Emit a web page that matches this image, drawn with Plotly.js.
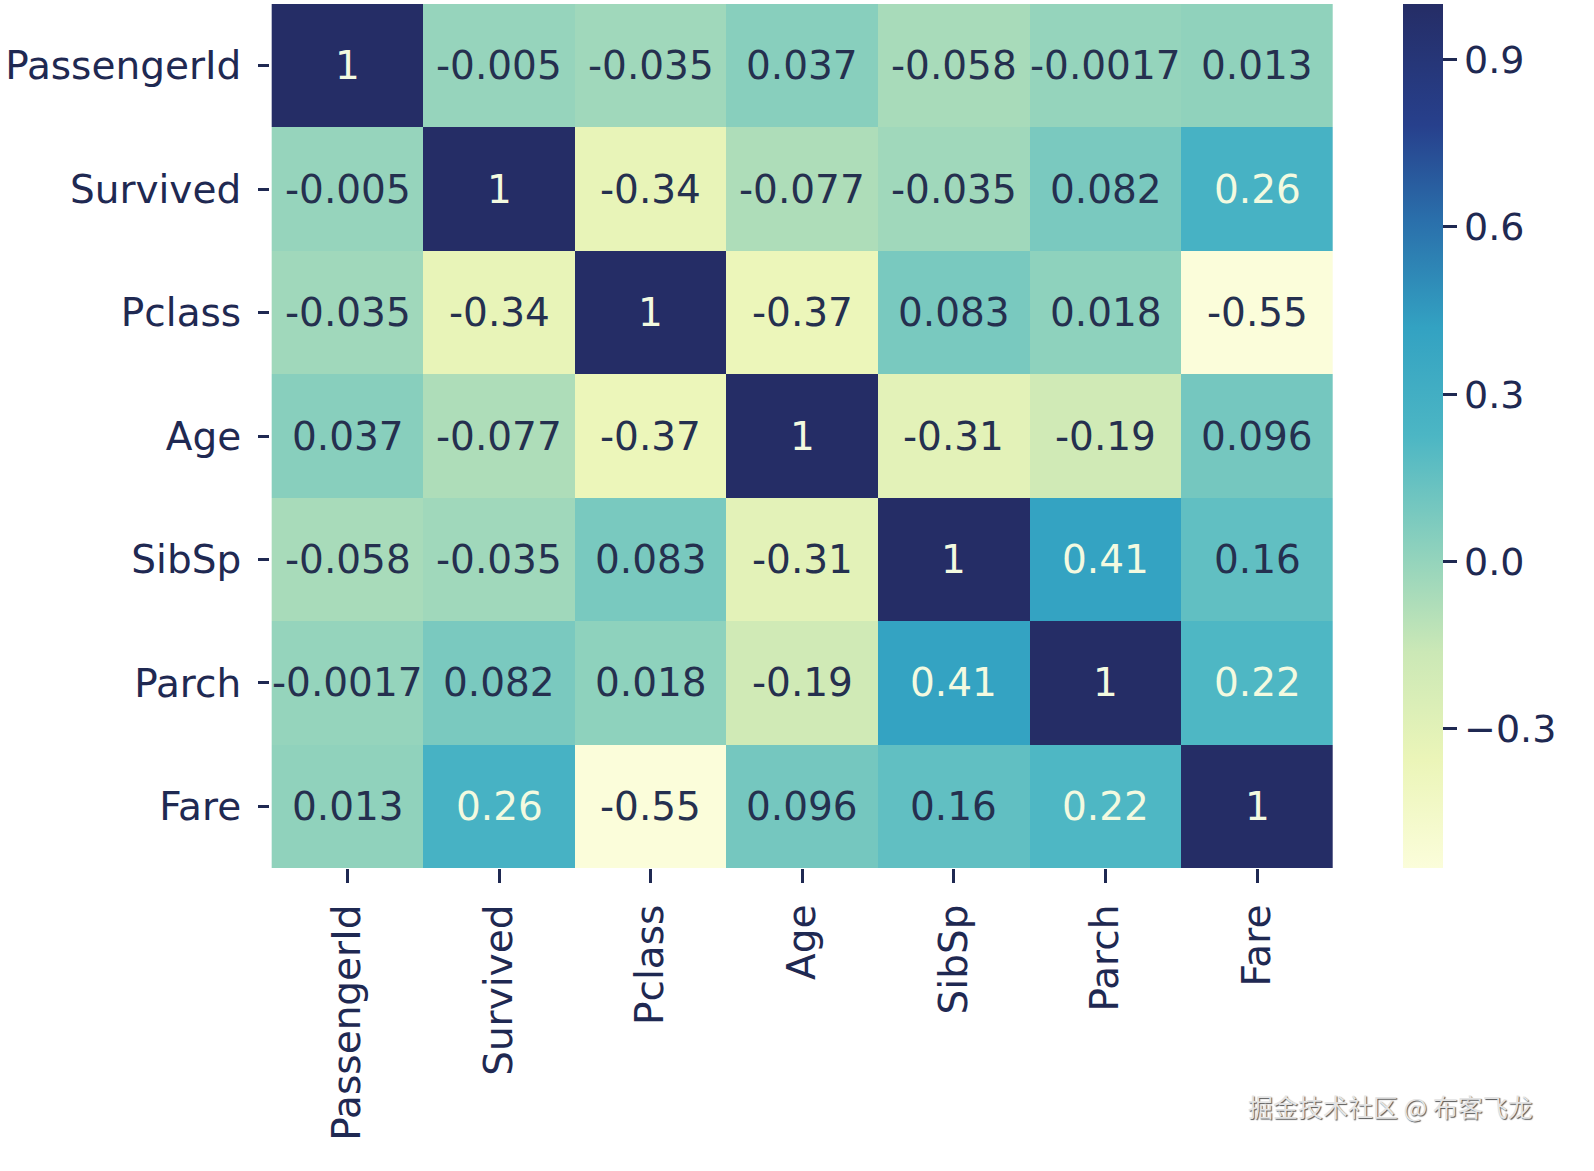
<!DOCTYPE html>
<html>
<head>
<meta charset="utf-8">
<script src="https://cdn.plot.ly/plotly-3.0.1.min.js"></script>
<style>html,body{margin:0;padding:0;background:#fff;}#chart{width:1594px;height:1171px;}</style>
</head>
<body>
<div id="chart"></div>
<script>
const features = ["PassengerId", "Survived", "Pclass", "Age", "SibSp", "Parch", "Fare"];
const rowPassengerId = [1, -0.005, -0.035, 0.037, -0.058, -0.0017, 0.013];
const rowSurvived    = [-0.005, 1, -0.34, -0.077, -0.035, 0.082, 0.26];
const rowPclass      = [-0.035, -0.34, 1, -0.37, 0.083, 0.018, -0.55];
const rowAge         = [0.037, -0.077, -0.37, 1, -0.31, -0.19, 0.096];
const rowSibSp       = [-0.058, -0.035, 0.083, -0.31, 1, 0.41, 0.16];
const rowParch       = [-0.0017, 0.082, 0.018, -0.19, 0.41, 1, 0.22];
const rowFare        = [0.013, 0.26, -0.55, 0.096, 0.16, 0.22, 1];
const colorbarTicks = [-0.3, 0.0, 0.3, 0.6, 0.9];
const watermark = "掘金技术社区 @ 布客飞龙";

const z = [rowPassengerId, rowSurvived, rowPclass, rowAge, rowSibSp, rowParch, rowFare];
const flat = z.flat();
const zmin = Math.min(...flat), zmax = Math.max(...flat);

// YlGnBu as it appears in the (palette-reduced) reference picture
const colorscale = [
  [0.0, "#fbfdda"], [0.125, "#ebf5b8"], [0.25, "#cbe8b6"], [0.375, "#8ad0bd"],
  [0.5, "#4cb6c4"], [0.625, "#33a2c2"], [0.75, "#2a6fab"], [0.86, "#27408c"], [1.0, "#252d66"]
];

const dark = "#1f2952";
const font = "DejaVu Sans, Verdana, sans-serif";

const annotations = [];
z.forEach((row, i) => {
  row.forEach((v, j) => {
    annotations.push({
      x: features[j], y: features[i], xref: "x", yref: "y",
      text: String(Number(v.toPrecision(2))),
      showarrow: false,
      font: {family: font, size: 39, color: v > 0.2 ? "#f3fae0" : "#25304f"}
    });
  });
});
annotations.push({
  xref: "paper", yref: "paper", x: 1.19, y: -0.275, xanchor: "right", yanchor: "middle",
  text: watermark, showarrow: false,
  font: {family: "Noto Sans CJK SC", size: 25, color: "#e4e4e4", shadow: "1px 1px 1px #555"}
});

const trace = {
  type: "heatmap",
  x: features, y: features, z: z,
  zmin: zmin, zmax: zmax,
  colorscale: colorscale,
  xgap: 0, ygap: 0,
  hoverinfo: "skip",
  colorbar: {
    x: 1.066, xanchor: "left", xpad: 0,
    y: 0.5, yanchor: "middle", ypad: 0,
    len: 1, lenmode: "fraction", thickness: 40,
    outlinewidth: 0,
    tickmode: "array", tickvals: colorbarTicks,
    ticktext: colorbarTicks.map(t => t.toFixed(1).replace("-", "\u2212")),
    ticks: "outside", ticklen: 14, tickwidth: 3, tickcolor: dark,
    tickfont: {family: font, size: 38, color: dark}
  }
};

const layout = {
  width: 1594, height: 1171,
  margin: {l: 270, r: 261, t: 4, b: 303},
  paper_bgcolor: "#fff", plot_bgcolor: "#fff",
  xaxis: {
    type: "category", tickangle: -90, ticks: "outside", ticklen: 14, tickwidth: 3, tickcolor: dark,
    ticklabelstandoff: 6,
    tickfont: {family: font, size: 39, color: dark}, showgrid: false, zeroline: false, showline: false
  },
  yaxis: {
    type: "category", autorange: "reversed", ticks: "outside", ticklen: 11, tickwidth: 3, tickcolor: dark,
    ticklabelstandoff: 9,
    tickfont: {family: font, size: 39, color: dark}, showgrid: false, zeroline: false, showline: false
  },
  annotations: annotations
};

Plotly.newPlot("chart", [trace], layout, {displayModeBar: false, staticPlot: true});
</script>
</body>
</html>
